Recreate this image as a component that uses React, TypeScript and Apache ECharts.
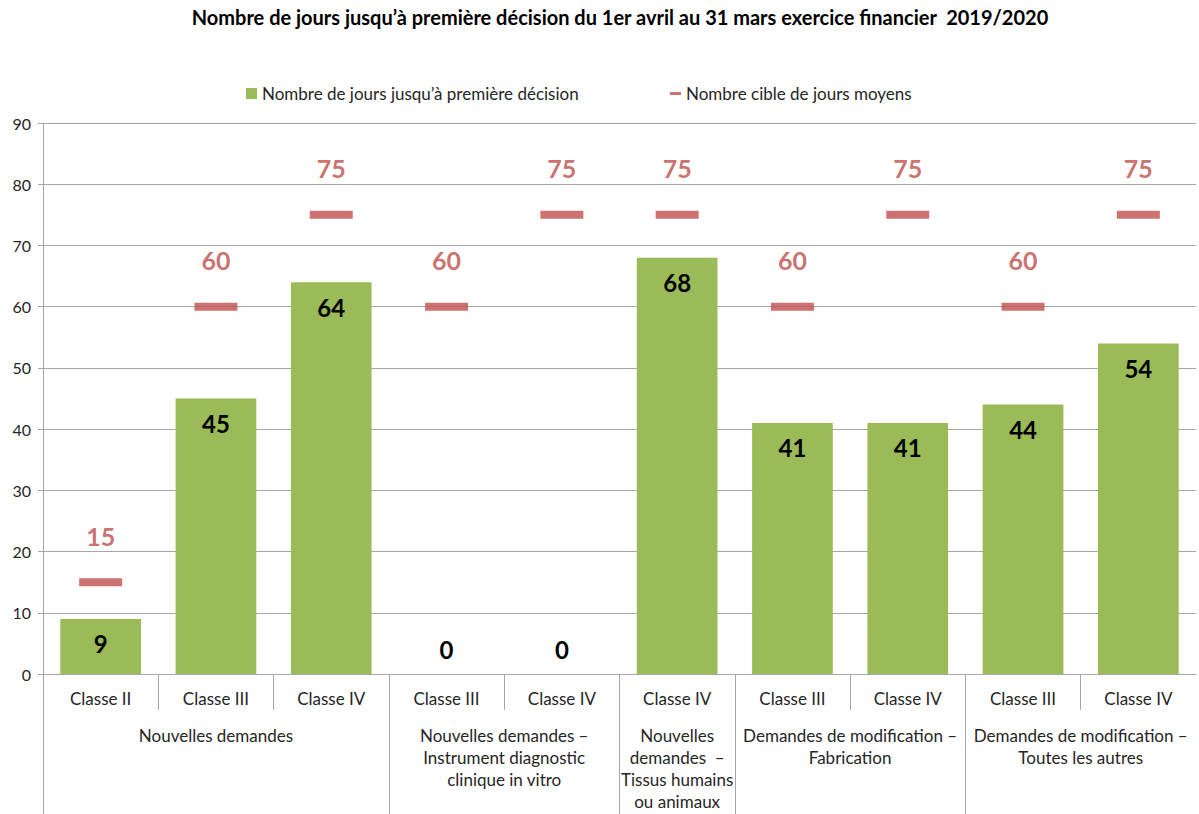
import React, { useEffect, useRef } from "react";
import * as echarts from "echarts";

const categories = ["Classe II", "Classe III", "Classe IV", "Classe III", "Classe IV", "Classe IV", "Classe III", "Classe IV", "Classe III", "Classe IV"];
const actualDays = [9, 45, 64, 0, 0, 68, 41, 41, 44, 54];
const targetDays = [15, 60, 75, 60, 75, 75, 60, 75, 60, 75];
const groupNames = [
  "Nouvelles demandes",
  "Nouvelles demandes –\nInstrument diagnostic\nclinique in vitro",
  "Nouvelles\ndemandes  –\nTissus humains\nou animaux",
  "Demandes de modification –\nFabrication",
  "Demandes de modification –\nToutes les autres",
];
const groupSizes = [3, 2, 1, 2, 2];
const yTicks = [0, 10, 20, 30, 40, 50, 60, 70, 80, 90];

const FONT = "Lato, 'Noto Sans', sans-serif";
const GRID = "#A6A6A6";
const TXT = "#262626";

export default function App() {
  const ref = useRef<HTMLDivElement>(null);
  useEffect(() => {
    if (!ref.current) return;
    const chart = echarts.init(ref.current, null, { renderer: "svg" });
    const bounds: number[] = [0];
    groupSizes.forEach((s) => bounds.push(bounds[bounds.length - 1] + s));
    const groupCenters = groupSizes.map((s, i) => bounds[i] + s / 2);
    const groupBounds = bounds.slice(0, bounds.length - 1);
    const innerTicks: number[] = [];
    for (let i = 1; i < categories.length; i++) if (!bounds.includes(i)) innerTicks.push(i);

    chart.setOption({
      animation: false,
      textStyle: { fontFamily: FONT },
      title: {
        text: "Nombre de jours jusqu’à première décision du 1er avril au 31 mars exercice financier  2019/2020",
        left: 615,
        textAlign: "center",
        top: 2,
        textStyle: { fontFamily: FONT, fontSize: 20, fontWeight: "bold", color: "#000" },
      },
      legend: [
        {
          left: 241,
          top: 80,
          itemWidth: 11,
          itemHeight: 11,
          data: [{ name: "Nombre de jours jusqu’à première décision", icon: "rect" }],
          textStyle: { fontFamily: FONT, fontSize: 17, color: TXT },
        },
        {
          left: 665,
          top: 80,
          itemWidth: 11,
          itemHeight: 3,
          data: [{ name: "Nombre cible de jours moyens", icon: "rect" }],
          textStyle: { fontFamily: FONT, fontSize: 17, color: TXT },
        },
      ],
      grid: { left: 43, right: 3, top: 123, bottom: 140, containLabel: false },
      xAxis: [
        {
          type: "category",
          data: categories,
          position: "bottom",
          axisLine: { show: true, lineStyle: { color: GRID } },
          axisTick: { show: false },
          axisLabel: { margin: 16, fontSize: 17, color: TXT, fontFamily: FONT },
        },
        {
          type: "value",
          min: 0,
          max: categories.length,
          position: "bottom",
          offset: 0,
          splitLine: { show: false },
          axisLine: { show: false },
          axisTick: { show: true, customValues: innerTicks, length: 36, lineStyle: { color: GRID } },
          axisLabel: { show: false },
        },
        {
          type: "value",
          min: 0,
          max: categories.length,
          position: "bottom",
          offset: 0,
          splitLine: { show: false },
          axisLine: { show: false },
          axisTick: { show: true, customValues: groupBounds, length: 140, lineStyle: { color: GRID } },
          axisLabel: {
            show: true,
            customValues: groupCenters,
            margin: 50,
            fontSize: 17,
            lineHeight: 22,
            color: TXT,
            fontFamily: FONT,
            align: "center",
            formatter: (v: number) => {
              const idx = groupCenters.findIndex((c) => Math.abs(c - v) < 1e-6);
              return idx >= 0 ? groupNames[idx] : "";
            },
          },
        },
      ],
      yAxis: {
        type: "value",
        min: yTicks[0],
        max: yTicks[yTicks.length - 1],
        interval: 10,
        axisLine: { show: true, lineStyle: { color: GRID } },
        axisTick: { show: true, length: 5, lineStyle: { color: GRID } },
        splitLine: { lineStyle: { color: GRID } },
        axisLabel: { margin: 12, fontSize: 16, color: TXT, fontFamily: FONT },
      },
      series: [
        {
          name: "Nombre de jours jusqu’à première décision",
          type: "bar",
          xAxisIndex: 0,
          barWidth: "70%",
          itemStyle: { color: "#9BBB59" },
          label: {
            show: true,
            position: "insideTop",
            distance: 13,
            fontSize: 24,
            fontWeight: "bold",
            color: "#000",
            fontFamily: FONT,
          },
          data: actualDays.map((v) =>
            v === 0 ? { value: v, label: { position: "insideBottom", distance: 13 } } : v
          ),
        },
        {
          name: "Nombre cible de jours moyens",
          type: "scatter",
          xAxisIndex: 0,
          symbol: "rect",
          symbolSize: [43, 8],
          itemStyle: { color: "#C0504D" },
          label: {
            show: true,
            position: "top",
            distance: 30,
            fontSize: 25,
            fontWeight: "bold",
            color: "#BE4B48",
            fontFamily: FONT,
          },
          data: targetDays,
        },
      ],
    });
    return () => chart.dispose();
  }, []);
  return (
    <div
      ref={ref}
      style={{ position: "fixed", left: 0, top: 0, width: 1199, height: 814, background: "#fff" }}
    />
  );
}
